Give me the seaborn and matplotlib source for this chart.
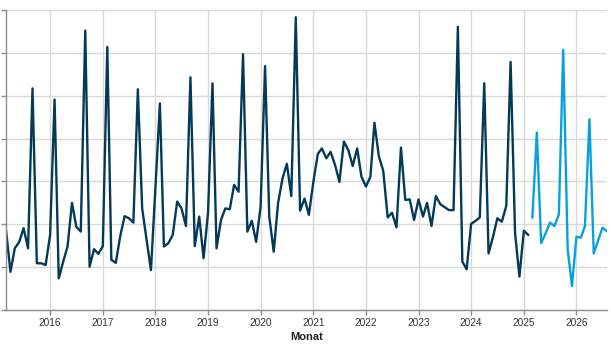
import matplotlib
matplotlib.use("Agg")
import matplotlib.pyplot as plt
import matplotlib.dates as mdates
import seaborn as sns
import pandas as pd

# ---- data -------------------------------------------------------------
actual_start = "2015-03-01"
actual_values = [
    1.87, 0.89, 1.44, 1.59, 1.91, 1.44, 5.17, 1.09, 1.09, 1.05,   # 2015-03 .. 2015-12
    1.75, 4.91, 0.74, 1.13, 1.48, 2.50, 1.94, 1.83, 6.52, 1.01, 1.42, 1.31,  # 2016
    1.49, 6.14, 1.17, 1.10, 1.71, 2.19, 2.14, 2.04, 5.15, 2.37, 1.63, 0.93,  # 2017
    2.85, 4.82, 1.48, 1.56, 1.75, 2.53, 2.37, 1.96, 5.43, 1.49, 2.18, 1.21,  # 2018
    2.26, 5.29, 1.44, 2.10, 2.37, 2.35, 2.92, 2.76, 5.97, 1.83, 2.08, 1.59,  # 2019
    2.41, 5.69, 2.18, 1.36, 2.49, 3.07, 3.41, 2.66, 6.83, 2.32, 2.60, 2.22,  # 2020
    2.99, 3.64, 3.77, 3.54, 3.69, 3.38, 2.99, 3.93, 3.73, 3.36, 3.77, 3.11,  # 2021
    2.88, 3.11, 4.37, 3.58, 3.25, 2.16, 2.27, 1.93, 3.79, 2.57, 2.58, 2.10,  # 2022
    2.58, 2.18, 2.50, 1.96, 2.66, 2.47, 2.40, 2.33, 2.33, 6.61, 1.13, 0.95,  # 2023
    2.01, 2.08, 2.16, 5.29, 1.32, 1.71, 2.14, 2.06, 2.43, 5.79, 1.79, 0.78,  # 2024
    1.85, 1.75,                                                              # 2025-01 .. 02
]
forecast_start = "2025-03-01"
forecast_values = [
    2.15, 4.14, 1.56, 1.79, 2.04, 1.96, 2.23, 6.07, 1.42, 0.56,  # 2025-03 .. 12
    1.71, 1.69, 1.96, 4.45, 1.32, 1.63, 1.92, 1.84,              # 2026-01 .. 08
]
year_ticks = list(range(2016, 2027))
x_label = "Monat"

actual = pd.DataFrame({
    "Monat": pd.date_range(actual_start, periods=len(actual_values), freq="MS"),
    "Wert": actual_values,
})
forecast = pd.DataFrame({
    "Monat": pd.date_range(forecast_start, periods=len(forecast_values), freq="MS"),
    "Wert": forecast_values,
})

# ---- style ------------------------------------------------------------
sns.set_style("white")
plt.rcParams["font.family"] = ["Liberation Sans", "DejaVu Sans"]

fig = plt.figure(figsize=(6.11, 3.47), dpi=100)
ax = fig.add_axes([6 / 611, 1 - 310 / 347, 601 / 611, 300 / 347])

sns.lineplot(data=actual, x="Monat", y="Wert", ax=ax, color="#033a58", linewidth=1.7)
sns.lineplot(data=forecast, x="Monat", y="Wert", ax=ax, color="#0a9fe0", linewidth=1.7)

ax.set_xlim(pd.Timestamp(actual_start), forecast["Monat"].iloc[-1])
ax.set_ylim(0, 7)
ax.set_yticks(range(0, 8))
ax.set_yticklabels([])
ax.set_xticks([pd.Timestamp(f"{y}-01-01") for y in year_ticks])
ax.xaxis.set_major_formatter(mdates.DateFormatter("%Y"))

ax.grid(True, color="#d9d9d9", linewidth=1.0)
ax.set_axisbelow(True)
for s in ["top", "right"]:
    ax.spines[s].set_visible(False)
for s in ["left", "bottom"]:
    ax.spines[s].set_color("#8c8c8c")
    ax.spines[s].set_linewidth(1.0)
ax.tick_params(axis="both", which="major", length=3.5, width=1.0, color="#8c8c8c",
               labelsize=7.3, labelcolor="#333333", bottom=True, left=True, pad=2.5)
ax.set_xlabel(x_label, fontsize=8, fontweight="bold", color="#222222", labelpad=3)
ax.set_ylabel("")

fig.savefig("out.png", dpi=100)
